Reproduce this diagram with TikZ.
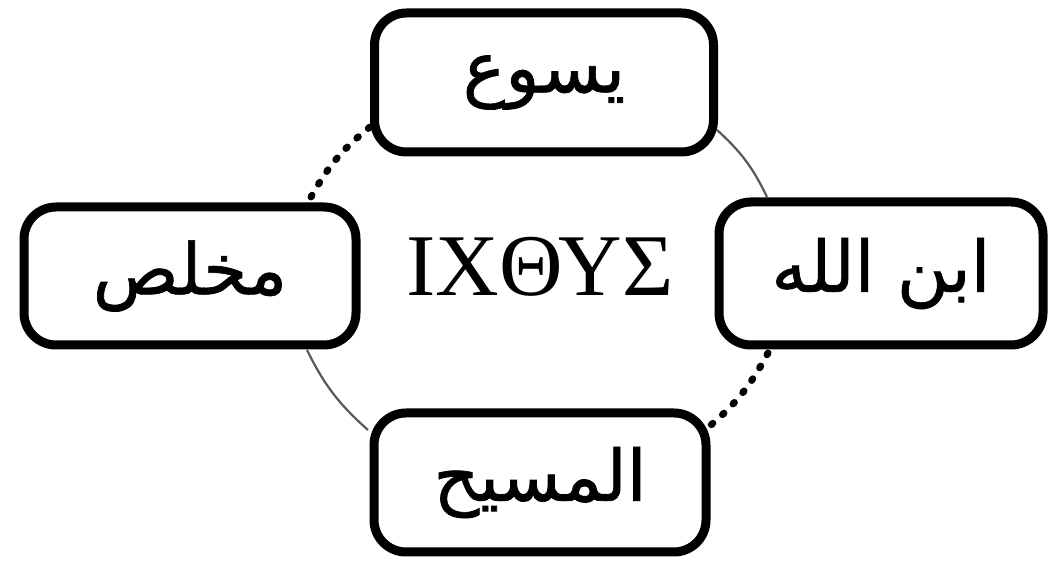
\documentclass[tikz,border=0pt]{standalone}
\usepackage{fontspec}
\TeXXeTstate=1
\newfontfamily\arabicfont[Script=Arabic,FakeBold=1]{DejaVu Sans}
\newfontfamily\greekfont{Liberation Serif}
\begin{document}
\begin{tikzpicture}[x=1pt,y=1pt,
  namebox/.style={draw=black, fill=white, line width=9pt, rounded corners=32pt,
    inner sep=0pt, font=\arabicfont\fontsize{71}{75}\selectfont},
  dotlink/.style={line width=7pt, line cap=round, dash pattern=on 2pt off 13pt, black},
  thinlink/.style={line width=2.2pt, black!65}]
\useasboundingbox (0,0) rectangle (1053,564);
% connector end points
\coordinate (tl1) at (311,367);
\coordinate (tl2) at (370,437);
\coordinate (tr1) at (717,434);
\coordinate (tr2) at (767,367);
\coordinate (br1) at (768,211);
\coordinate (br2) at (705,134);
\coordinate (bl1) at (368,134);
\coordinate (bl2) at (307,214);
\draw[dotlink] (tl1) to[bend left=11] (tl2);
\draw[thinlink] (tr1) to[bend left=11] (tr2);
\draw[dotlink] (br1) to[bend left=11] (br2);
\draw[thinlink] (bl1) to[bend left=11] (bl2);
% boxes
\node[namebox, minimum width=339pt, minimum height=139pt] (T) at (544,481.5) {\beginR يسوع\endR};
\node[namebox, minimum width=332pt, minimum height=138pt] (L) at (190,288) {\beginR مخلص\endR};
\node[namebox, minimum width=324pt, minimum height=143pt] (R) at (881,290.5) {\beginR ابن الله\endR};
\node[namebox, minimum width=332pt, minimum height=139pt] (B) at (540,81.5) {\beginR المسيح\endR};
\node[font=\greekfont\fontsize{88}{90}\selectfont, inner sep=0pt] (C) at (540,297) {ΙΧΘΥΣ};
\end{tikzpicture}
\end{document}
